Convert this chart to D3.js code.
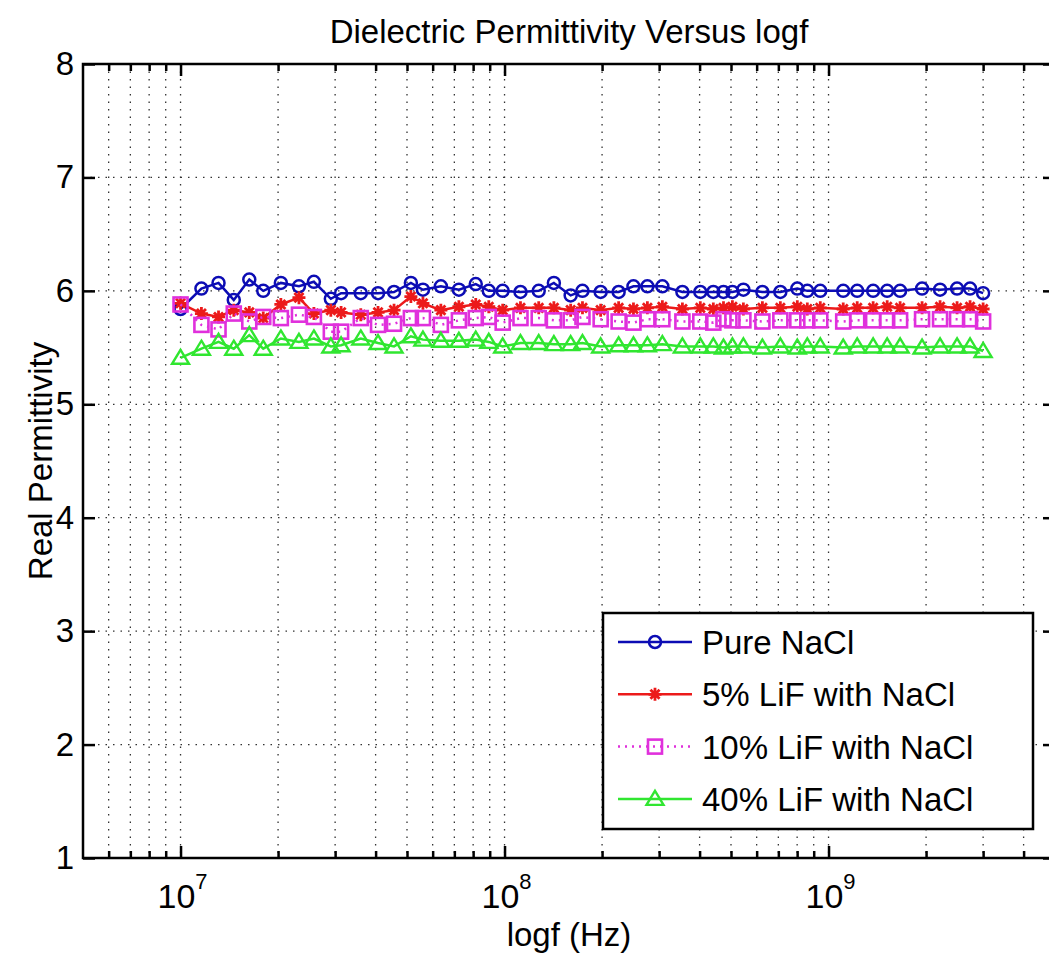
<!DOCTYPE html>
<html>
<head>
<meta charset="utf-8">
<script src="https://cdn.jsdelivr.net/npm/d3@7"></script>
<style>
body { margin: 0; background: #fff; }
text { font-family: "Liberation Sans", Arial, sans-serif; fill: #000; }
</style>
</head>
<body>
<div class="gv-chart"></div>
<script>
// frequencies (MHz)
var freqMHz = [10, 11.6, 13.1, 14.6, 16.3, 18, 20.4, 23.2, 25.8, 29.1,
    31.3, 36, 40.7, 45.6, 51.4, 56, 63.6, 72.3, 81.5, 89.4,
    98.7, 112, 127.5, 142, 160, 174, 198, 225, 250, 276,
    307, 354, 402, 441, 474, 505, 546, 625, 710, 801,
    860, 943, 1110, 1226, 1373, 1517, 1663, 1944, 2209, 2493,
    2734, 3000];

var pureNaCl = [5.84, 6.02, 6.07, 5.92, 6.10, 6.00, 6.07, 6.04, 6.08, 5.93,
    5.98, 5.98, 5.98, 5.99, 6.07, 6.01, 6.04, 6.01, 6.06, 6.00,
    6.00, 5.99, 6.00, 6.07, 5.96, 6.00, 5.99, 5.99, 6.04, 6.04,
    6.04, 5.99, 5.99, 5.99, 5.99, 5.99, 6.01, 5.99, 5.99, 6.02,
    6.00, 6.00, 6.00, 6.00, 6.00, 6.00, 6.00, 6.02, 6.01, 6.02,
    6.02, 5.98];

var lif5 = [5.89, 5.80, 5.77, 5.83, 5.81, 5.76, 5.88, 5.94, 5.80, 5.83,
    5.81, 5.79, 5.81, 5.83, 5.95, 5.89, 5.83, 5.86, 5.88, 5.86,
    5.83, 5.85, 5.85, 5.85, 5.83, 5.85, 5.83, 5.85, 5.84, 5.85,
    5.86, 5.84, 5.85, 5.84, 5.85, 5.86, 5.84, 5.85, 5.85, 5.86,
    5.84, 5.85, 5.84, 5.85, 5.85, 5.86, 5.85, 5.85, 5.86, 5.85,
    5.86, 5.84];

var lif10 = [5.88, 5.70, 5.66, 5.80, 5.73, 5.77, 5.76, 5.79, 5.77, 5.64,
    5.64, 5.76, 5.70, 5.71, 5.76, 5.76, 5.70, 5.74, 5.76, 5.77,
    5.72, 5.76, 5.76, 5.74, 5.74, 5.77, 5.75, 5.73, 5.72, 5.75,
    5.75, 5.73, 5.73, 5.72, 5.75, 5.74, 5.74, 5.73, 5.74, 5.74,
    5.74, 5.74, 5.73, 5.74, 5.74, 5.74, 5.74, 5.75, 5.75, 5.75,
    5.75, 5.73];

var lif40 = [5.41, 5.49, 5.55, 5.49, 5.61, 5.49, 5.58, 5.55, 5.58, 5.51,
    5.52, 5.58, 5.54, 5.51, 5.60, 5.57, 5.56, 5.56, 5.57, 5.55,
    5.51, 5.54, 5.54, 5.53, 5.53, 5.54, 5.51, 5.52, 5.52, 5.52,
    5.53, 5.51, 5.51, 5.51, 5.50, 5.51, 5.51, 5.50, 5.51, 5.50,
    5.51, 5.51, 5.50, 5.51, 5.51, 5.51, 5.51, 5.50, 5.51, 5.51,
    5.51, 5.47];

var seriesNames = ["Pure NaCl", "5% LiF with NaCl", "10% LiF with NaCl", "40% LiF with NaCl"];
var seriesColours = ["#0c0cb4", "#ec1a1a", "#e030dc", "#30e630"];
var seriesMarkers = ["circle", "star", "square", "triangle"];
var seriesDash = [null, null, "2,5", null];

var yTicks = [1, 2, 3, 4, 5, 6, 7, 8];
var xExponents = [7, 8, 9];

var titleText = "Dielectric Permittivity Versus logf";
var xLabel = "logf (Hz)";
var yLabel = "Real Permittivity";

var width = 1049, height = 957;
var mLeft = 83, mRight = 1055, mTop = 64, mBottom = 858;
var fontSize = "33px";

var x = d3.scaleLog().domain([5e6, 5e9]).range([mLeft, mRight]);
var y = d3.scaleLinear().domain([1, 8]).range([mBottom, mTop]);

var svg = d3.select(".gv-chart").append("svg")
    .attr("width", width).attr("height", height);

// grid
var xMajor = xExponents.map(e => Math.pow(10, e));
var xAll = x.ticks().filter(t => t > 5e6 && t < 5e9);
var xMinor = xAll.filter(t => xMajor.indexOf(t) < 0);

var grid = svg.append("g").attr("stroke", "#333").attr("stroke-width", 1.3)
    .attr("stroke-dasharray", "1.5,6");
grid.selectAll("line.gx").data(xAll).enter().append("line")
    .attr("x1", d => x(d)).attr("x2", d => x(d))
    .attr("y1", mTop).attr("y2", mBottom);
grid.selectAll("line.gy").data(yTicks.slice(1, -1)).enter().append("line")
    .attr("x1", mLeft).attr("x2", mRight)
    .attr("y1", d => y(d)).attr("y2", d => y(d));

// series
var series = [pureNaCl, lif5, lif10, lif40].map((vals, i) => ({
    name: seriesNames[i],
    colour: seriesColours[i],
    marker: seriesMarkers[i],
    dash: seriesDash[i],
    points: vals.map((v, j) => ({ f: freqMHz[j] * 1e6, v: v }))
}));

var line = d3.line().x(d => x(d.f)).y(d => y(d.v));

function drawMarker(g, type, colour) {
    if (type === "circle") {
        g.append("circle").attr("r", 6).attr("fill", "none")
            .attr("stroke", colour).attr("stroke-width", 2.5);
    } else if (type === "square") {
        g.append("rect").attr("x", -7).attr("y", -7).attr("width", 14).attr("height", 14)
            .attr("fill", "none").attr("stroke", colour).attr("stroke-width", 2.6);
    } else if (type === "triangle") {
        g.append("path").attr("d", "M0,-8L8.5,6L-8.5,6Z")
            .attr("fill", "none").attr("stroke", colour).attr("stroke-width", 2.4);
    } else {
        var s = 6.5;
        g.append("path")
            .attr("d", `M${-s},0L${s},0M0,${-s}L0,${s}M${-s*0.7},${-s*0.7}L${s*0.7},${s*0.7}M${-s*0.7},${s*0.7}L${s*0.7},${-s*0.7}`)
            .attr("stroke", colour).attr("stroke-width", 2.8);
    }
}

series.forEach(s => {
    var g = svg.append("g");
    g.append("path").datum(s.points)
        .attr("d", line)
        .attr("fill", "none")
        .attr("stroke", s.colour)
        .attr("stroke-width", 2.5)
        .attr("stroke-dasharray", s.dash);
    g.selectAll("g.m").data(s.points).enter().append("g")
        .attr("transform", d => `translate(${x(d.f)},${y(d.v)})`)
        .each(function () { drawMarker(d3.select(this), s.marker, s.colour); });
});

// axes with inward ticks
function styleAxis(sel) {
    sel.selectAll(".domain").remove();
    sel.selectAll(".tick line").attr("stroke", "#000").attr("stroke-width", 2.5);
    sel.selectAll(".tick text").style("font-size", fontSize)
        .style("font-family", '"Liberation Sans", Arial, sans-serif').attr("fill", "#000");
}

svg.append("g").attr("transform", `translate(0,${mBottom})`)
    .call(d3.axisBottom(x).tickValues(xMajor).tickSize(-12).tickFormat(""))
    .call(styleAxis);
svg.append("g").attr("transform", `translate(0,${mBottom})`)
    .call(d3.axisBottom(x).tickValues(xMinor).tickSize(-7).tickFormat(""))
    .call(styleAxis);
svg.append("g").attr("transform", `translate(0,${mTop})`)
    .call(d3.axisTop(x).tickValues(xMajor).tickSize(-12).tickFormat(""))
    .call(styleAxis);
svg.append("g").attr("transform", `translate(0,${mTop})`)
    .call(d3.axisTop(x).tickValues(xMinor).tickSize(-7).tickFormat(""))
    .call(styleAxis);
svg.append("g").attr("transform", `translate(${mLeft},0)`)
    .call(d3.axisLeft(y).tickValues(yTicks).tickSize(-12).tickPadding(9).tickFormat(d3.format("d")))
    .call(styleAxis);
svg.append("g").attr("transform", `translate(${mRight},0)`)
    .call(d3.axisRight(y).tickValues(yTicks).tickSize(-12).tickFormat(""))
    .call(styleAxis);

// box
svg.append("rect").attr("x", mLeft).attr("y", mTop)
    .attr("width", mRight - mLeft).attr("height", mBottom - mTop)
    .attr("fill", "none").attr("stroke", "#000").attr("stroke-width", 2.5);

// x tick labels 10^n
var xl = svg.append("g").selectAll("text").data(xExponents).enter().append("text")
    .attr("x", d => x(Math.pow(10, d)) + 2)
    .attr("y", mBottom + 50)
    .attr("text-anchor", "middle")
    .style("font-size", "34px");
xl.append("tspan").text("10");
xl.append("tspan").attr("dy", -19).style("font-size", "22px").text(d => d);

// titles
svg.append("text").attr("x", (mLeft + mRight) / 2).attr("y", 43)
    .attr("text-anchor", "middle").style("font-size", fontSize).text(titleText);
svg.append("text").attr("x", (mLeft + mRight) / 2).attr("y", 946)
    .attr("text-anchor", "middle").style("font-size", fontSize).text(xLabel);
svg.append("text")
    .attr("transform", `translate(52,${(mTop + mBottom) / 2}) rotate(-90)`)
    .attr("text-anchor", "middle").style("font-size", fontSize).text(yLabel);

// legend
var lg = svg.append("g").attr("transform", "translate(603,613)");
lg.append("rect").attr("width", 430).attr("height", 216)
    .attr("fill", "#fff").attr("stroke", "#000").attr("stroke-width", 2.5);
var items = lg.selectAll("g.item").data(series).enter().append("g")
    .attr("transform", (d, i) => `translate(0,${29 + i * 52.3})`);
items.append("line").attr("x1", 15).attr("x2", 89)
    .attr("stroke", d => d.colour).attr("stroke-width", 2.5)
    .attr("stroke-dasharray", d => d.dash);
items.each(function (d) {
    var m = d3.select(this).append("g").attr("transform", "translate(52,0)");
    drawMarker(m, d.marker, d.colour);
});
items.append("text").attr("x", 99).attr("y", 12)
    .style("font-size", fontSize).text(d => d.name);
</script>
</body>
</html>
